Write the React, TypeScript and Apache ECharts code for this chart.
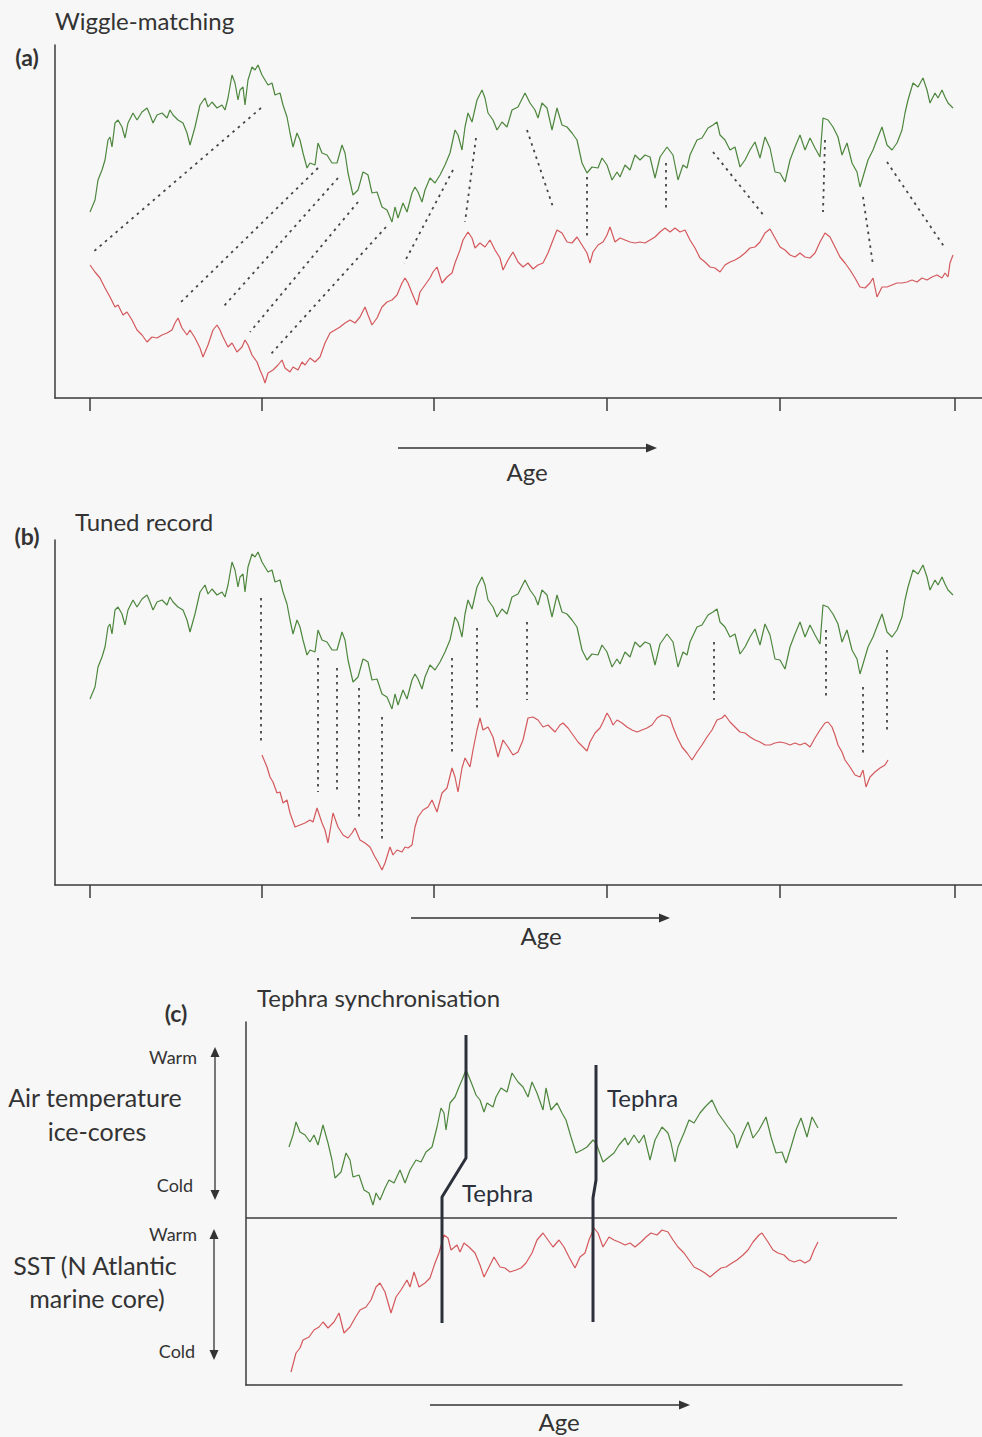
import React, { useEffect, useRef } from "react";
import * as echarts from "echarts";

// ---- data (age in arbitrary units, temperature index in arbitrary units) ----
const ageTicks = [90, 262, 434, 607, 780, 955];

const greenA: [number, number][] = [
  [90,188],[95,200],[98,220],[102,230],[105,240],[108,260],[110,263],[112,253],[115,277],[118,280],[122,273],[125,262],[128,277],[133,287],[137,280],[142,288],[147,292],[150,285],[153,277],[157,285],[162,287],[167,282],[170,290],[173,285],[178,280],[183,277],[187,267],[190,255],[195,273],[200,295],[205,302],[208,293],[212,298],[217,292],[222,295],[225,290],[228,302],[232,325],[235,317],[238,300],[240,310],[243,313],[245,295],[248,320],[252,333],[255,330],[258,335],[262,325],[265,320],[268,315],[272,317],[275,305],[280,307],[283,295],[287,283],[290,267],[293,253],[297,267],[300,260],[303,247],[307,232],[310,237],[315,235],[318,257],[322,247],[327,245],[332,237],[337,237],[342,255],[345,247],[348,227],[353,205],[358,210],[363,228],[365,227],[368,225],[372,207],[377,208],[382,193],[387,190],[392,178],[395,193],[398,182],[403,197],[407,188],[412,207],[415,213],[418,208],[422,198],[425,210],[430,222],[435,217],[440,225],[445,235],[450,247],[455,270],[458,265],[462,250],[465,273],[468,287],[472,278],[477,300],[482,310],[485,302],[488,287],[493,280],[497,270],[502,278],[507,273],[512,290],[518,293],[525,307],[530,297],[535,290],[538,282],[542,297],[547,292],[552,270],[557,292],[562,275],[567,273],[572,267],[577,260],[582,237],[587,227],[592,233],[598,232],[602,242],[607,235],[612,220],[617,228],[620,223],[625,235],[630,230],[635,245],[640,240],[645,245],[650,243],[655,222],[660,243],[667,253],[673,245],[678,220],[683,235],[687,232],[690,245],[697,260],[702,262],[708,272],[713,275],[717,278],[720,265],[725,260],[730,250],[735,253],[740,233],[745,240],[750,250],[755,258],[760,242],[765,263],[770,252],[775,228],[780,227],[785,218],[790,240],[795,253],[800,265],[805,250],[810,262],[815,252],[820,243],[823,282],[828,280],[833,273],[838,263],[842,245],[847,257],[852,237],[857,228],[860,213],[863,223],[868,240],[873,250],[878,263],[882,273],[887,255],[892,250],[897,257],[902,270],[905,287],[908,300],[913,317],[918,313],[923,322],[927,310],[930,297],[935,307],[938,302],[942,310],[945,303],[948,297],[953,292]
];

const redA: [number, number][] = [
  [90,135],[95,128],[100,122],[105,112],[110,103],[115,93],[118,95],[123,85],[127,88],[132,80],[137,70],[142,65],[147,58],[152,63],[157,62],[162,65],[167,67],[172,70],[175,77],[178,82],[182,72],[187,65],[190,70],[195,62],[200,52],[203,43],[208,55],[213,70],[217,75],[220,70],[223,63],[228,53],[232,57],[237,48],[242,53],[245,60],[248,55],[252,45],[257,38],[260,30],[263,23],[265,17],[268,27],[273,30],[278,35],[282,40],[285,32],[290,28],[293,33],[298,30],[302,38],[305,35],[310,42],[315,38],[320,43],[325,57],[330,67],[335,70],[340,73],[345,77],[350,80],[355,77],[360,83],[365,93],[368,85],[372,75],[377,82],[382,93],[387,98],[392,100],[397,105],[402,117],[405,122],[408,117],[412,107],[417,95],[420,108],[425,115],[430,122],[433,128],[437,133],[442,117],[447,123],[452,127],[455,137],[460,150],[463,160],[468,168],[472,162],[475,152],[480,157],[485,153],[490,160],[495,150],[500,142],[503,130],[508,140],[513,148],[518,138],[523,133],[528,137],[533,131],[538,135],[543,137],[548,147],[553,160],[557,170],[562,167],[567,158],[572,157],[577,163],[582,155],[587,147],[590,137],[593,148],[598,155],[603,158],[607,165],[610,173],[615,158],[620,162],[625,160],[630,158],[635,157],[640,158],[645,157],[650,160],[655,163],[660,168],[665,172],[670,168],[675,172],[680,168],[685,170],[690,160],[695,152],[700,142],[705,138],[710,133],[715,132],[720,128],[725,135],[730,138],[735,140],[740,143],[745,147],[750,152],[755,153],[760,158],[765,167],[770,171],[775,162],[780,153],[785,150],[790,145],[795,143],[800,147],[805,143],[810,142],[815,147],[820,158],[825,167],[830,163],[835,153],[840,143],[845,137],[850,130],[855,122],[860,113],[865,112],[870,117],[873,122],[877,103],[882,113],[887,113],[892,115],[897,117],[902,117],[907,118],[912,120],[917,118],[922,122],[927,120],[932,123],[937,125],[942,122],[945,127],[948,123],[950,137],[953,145]
];

// tie points, panel (a): [green age, green temp, red age, red temp]
const tiesA: [number, number, number, number][] = [
  [261,292,92,147],[318,232,180,97],[338,222,224,94],[358,198,250,68],[386,173,270,45],
  [453,230,404,137],[476,262,465,178],[527,270,553,193],[587,223,587,162],[666,237,666,188],
  [713,248,765,183],[825,260,823,188],[863,203,873,135],[887,238,945,152]
];

const redB: [number, number][] = [
  [262,132],[267,120],[270,110],[273,105],[277,94],[280,95],[283,84],[287,87],[290,74],[295,60],[300,62],[305,64],[310,67],[313,65],[317,79],[322,64],[325,57],[328,44],[333,74],[338,60],[343,52],[348,49],[352,54],[355,59],[360,47],[365,44],[370,40],[375,30],[378,25],[382,17],[385,24],[390,40],[393,32],[397,37],[402,35],[405,40],[408,39],[412,42],[415,60],[418,70],[423,77],[428,80],[432,87],[437,75],[442,94],[447,99],[452,119],[455,110],[458,95],[462,119],[465,129],[470,120],[473,137],[477,157],[480,169],[483,157],[488,160],[493,150],[498,130],[503,147],[508,140],[513,132],[518,135],[523,147],[528,169],[533,170],[538,167],[543,160],[548,162],[550,160],[555,155],[560,162],[563,164],[568,159],[573,152],[578,145],[583,140],[587,136],[590,145],[595,154],[600,159],[603,165],[607,174],[610,169],[613,162],[617,167],[622,164],[627,160],[632,157],[637,155],[642,157],[647,159],[652,162],[657,169],[662,172],[667,171],[670,169],[673,160],[677,150],[682,140],[687,134],[692,127],[697,135],[702,142],[707,150],[712,157],[717,167],[722,169],[725,172],[730,165],[735,160],[740,155],[745,154],[750,150],[755,147],[760,145],[765,142],[770,142],[775,144],[780,145],[785,144],[790,142],[795,144],[800,142],[805,144],[810,140],[815,149],[820,157],[825,164],[828,165],[832,160],[835,152],[838,142],[842,135],[845,127],[850,120],[855,112],[860,110],[863,117],[866,100],[870,110],[875,115],[880,119],[885,122],[888,127]
];

// tie points, panel (b): [age, green temp, red temp]
const tiesB: [number, number, number][] = [
  [261,289,144],[318,229,95],[337,219,94],[359,199,70],[382,170,45],[452,229,134],
  [477,259,177],[527,265,187],[714,245,187],[826,257,187],[863,200,134],[887,237,155]
];

const greenC: [number, number][] = [
  [289,243],[293,255],[296,268],[300,258],[305,255],[310,248],[314,255],[318,245],[323,265],[328,247],[332,230],[335,212],[341,218],[346,237],[350,230],[353,213],[359,215],[364,200],[369,197],[373,185],[376,197],[380,190],[385,202],[389,210],[394,207],[400,220],[405,207],[410,220],[416,230],[421,228],[426,238],[432,243],[437,263],[441,282],[444,277],[446,260],[450,287],[455,293],[459,303],[462,310],[466,320],[469,313],[473,303],[476,295],[480,290],[484,278],[487,287],[493,283],[496,293],[501,302],[507,298],[512,317],[518,308],[523,303],[528,293],[532,308],[537,297],[543,280],[546,302],[551,280],[557,287],[562,277],[566,270],[571,253],[576,237],[582,240],[587,243],[593,250],[596,247],[603,228],[609,233],[614,237],[619,245],[625,252],[628,245],[634,255],[639,247],[644,255],[650,230],[655,250],[662,263],[668,257],[671,247],[675,228],[678,243],[684,257],[689,270],[694,267],[700,277],[705,283],[712,290],[718,277],[723,270],[728,263],[734,255],[737,242],[743,257],[748,268],[753,252],[759,260],[766,273],[771,253],[776,237],[782,238],[786,227],[791,243],[796,260],[801,272],[807,253],[812,273],[818,262]
];

const redC: [number, number][] = [
  [291,18],[296,37],[300,42],[303,50],[309,53],[314,60],[319,63],[323,68],[328,62],[334,68],[339,77],[344,57],[350,63],[355,72],[360,80],[366,83],[371,90],[376,103],[380,107],[385,98],[391,77],[396,93],[401,100],[407,110],[410,103],[414,118],[419,103],[425,107],[430,112],[435,127],[439,137],[444,155],[448,152],[451,140],[457,145],[460,138],[464,147],[469,143],[475,137],[480,125],[484,113],[489,123],[494,133],[500,123],[505,122],[510,118],[516,120],[521,122],[526,127],[532,137],[537,150],[543,157],[548,150],[553,143],[559,150],[564,143],[569,133],[575,122],[580,133],[585,137],[589,150],[594,162],[598,157],[603,143],[609,153],[614,150],[619,148],[625,145],[630,147],[635,143],[641,148],[646,153],[651,157],[657,155],[662,160],[668,158],[673,150],[678,143],[684,137],[689,130],[694,123],[700,120],[705,117],[710,113],[716,118],[721,122],[726,123],[732,127],[737,130],[743,135],[748,140],[753,148],[759,155],[762,157],[768,148],[773,140],[778,137],[784,135],[789,130],[794,128],[800,130],[805,127],[810,130],[814,140],[818,148]
];

// tephra isochrons in panel (c)
const tephra1: [number, number][] = [[466,355],[466,232],[442,193],[442,67]];
const tephra2: [number, number][] = [[596,325],[596,210],[593,192],[593,68]];
const dividerC: [number, number][] = [[246,172],[897,172]];

// ---- styling ----
const FONT = "Lato, 'Open Sans', sans-serif";
const GREEN = "#4d863d";
const RED = "#d4585c";
const AXIS = "#3b3b3b";
const TEXT = "#333333";
const NAVY = "#2b303b";

function ageAxis(gridIndex: number, min: number, max: number, ticks: boolean) {
  return {
    type: "value", gridIndex, min, max,
    axisLine: { show: true, lineStyle: { color: AXIS, width: 1.5 } },
    axisTick: ticks
      ? { show: true, customValues: ageTicks, length: 13, inside: false, lineStyle: { color: AXIS, width: 1.5 } }
      : { show: false },
    axisLabel: { show: false },
    splitLine: { show: false },
  };
}
function tempAxis(gridIndex: number, min: number, max: number) {
  return {
    type: "value", gridIndex, min, max,
    axisLine: { show: true, onZero: false, lineStyle: { color: AXIS, width: 1.5 } },
    axisTick: { show: false },
    axisLabel: { show: false },
    splitLine: { show: false },
  };
}
function curve(idx: number, data: [number, number][], color: string, width = 1.2) {
  return {
    type: "line", xAxisIndex: idx, yAxisIndex: idx, data, showSymbol: false, symbol: "none",
    silent: true, lineStyle: { color, width }, z: 3,
  };
}
function dotted(idx: number, data: [number, number][]) {
  return {
    type: "line", xAxisIndex: idx, yAxisIndex: idx, data, showSymbol: false, symbol: "none",
    silent: true, lineStyle: { color: "#444444", width: 1.8, type: [2.5, 4.5] }, z: 2,
  };
}

function txt(x: number, y: number, text: string, size: number, opts: any = {}) {
  return {
    type: "text", x, y, silent: true,
    style: {
      text, fontSize: size, fontFamily: FONT, fontWeight: opts.bold ? "bold" : "normal",
      fill: opts.color || TEXT, align: opts.align || "center", verticalAlign: "middle",
    },
  };
}
function arrowRight(x1: number, x2: number, y: number) {
  return [
    { type: "line", silent: true, shape: { x1, y1: y, x2: x2 - 8, y2: y }, style: { stroke: "#333", lineWidth: 1.5 } },
    { type: "polygon", silent: true, shape: { points: [[x2, y], [x2 - 11, y - 4.5], [x2 - 11, y + 4.5]] }, style: { fill: "#333" } },
  ];
}
function arrowUpDown(x: number, y1: number, y2: number) {
  return [
    { type: "line", silent: true, shape: { x1: x, y1: y1 + 6, x2: x, y2: y2 - 6 }, style: { stroke: "#333", lineWidth: 1.3 } },
    { type: "polygon", silent: true, shape: { points: [[x, y1], [x - 4.5, y1 + 10], [x + 4.5, y1 + 10]] }, style: { fill: "#333" } },
    { type: "polygon", silent: true, shape: { points: [[x, y2], [x - 4.5, y2 - 10], [x + 4.5, y2 - 10]] }, style: { fill: "#333" } },
  ];
}

export default function App() {
  const ref = useRef<HTMLDivElement>(null);
  useEffect(() => {
    if (!ref.current) return;
    const chart = echarts.init(ref.current, null, { renderer: "svg" });

    const series: any[] = [
      curve(0, greenA, GREEN),
      curve(0, redA, RED),
      ...tiesA.map((t) => dotted(0, [[t[0], t[1]], [t[2], t[3]]])),
      curve(1, greenA, GREEN),
      curve(1, redB, RED),
      ...tiesB.map((t) => dotted(1, [[t[0], t[1]], [t[0], t[2]]])),
      curve(2, greenC, GREEN),
      curve(2, redC, RED),
      { ...curve(2, dividerC, AXIS, 1.3), z: 1 },
      { ...curve(2, tephra1, NAVY, 3), z: 5 },
      { ...curve(2, tephra2, NAVY, 3), z: 5 },
    ];

    const graphic: any[] = [
      txt(55, 20, "Wiggle-matching", 24, { align: "left" }),
      txt(27, 57, "(a)", 23, { bold: true }),
      ...arrowRight(398, 657, 448),
      txt(527, 471, "Age", 24),
      txt(75, 521, "Tuned record", 24, { align: "left" }),
      txt(27, 536, "(b)", 23, { bold: true }),
      ...arrowRight(411, 670, 918),
      txt(541, 935, "Age", 24),
      txt(176, 1013, "(c)", 23, { bold: true }),
      txt(257, 997, "Tephra synchronisation", 24, { align: "left" }),
      txt(173, 1057, "Warm", 18),
      txt(175, 1185, "Cold", 18),
      txt(173, 1234, "Warm", 18),
      txt(177, 1351, "Cold", 18),
      ...arrowUpDown(215, 1047, 1200),
      ...arrowUpDown(214, 1229, 1360),
      txt(95, 1097, "Air temperature", 25),
      txt(97, 1131, "ice-cores", 25),
      txt(95, 1265, "SST (N Atlantic", 25),
      txt(97, 1298, "marine core)", 25),
      txt(607, 1097, "Tephra", 24, { align: "left", color: NAVY }),
      txt(462, 1192, "Tephra", 24, { align: "left", color: NAVY }),
      ...arrowRight(430, 690, 1405),
      txt(559, 1421, "Age", 24),
    ];

    chart.setOption({
      animation: false,
      backgroundColor: "#f7f7f7",
      grid: [
        { left: 55, top: 45, width: 927, height: 353 },
        { left: 55, top: 540, width: 927, height: 345 },
        { left: 246, top: 1022, width: 656, height: 363 },
      ],
      xAxis: [ageAxis(0, 55, 982, true), ageAxis(1, 55, 982, true), ageAxis(2, 246, 902, false)],
      yAxis: [tempAxis(0, 2, 355), tempAxis(1, 2, 347), tempAxis(2, 5, 368)],
      series,
      graphic,
    });
    return () => chart.dispose();
  }, []);
  return (
    <div
      ref={ref}
      style={{ position: "absolute", left: 0, top: 0, width: 982, height: 1437 }}
    />
  );
}
